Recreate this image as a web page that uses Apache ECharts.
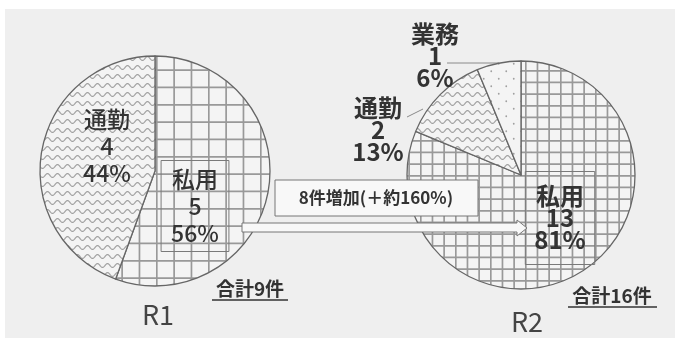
<!DOCTYPE html>
<html>
<head>
<meta charset="utf-8">
<script src="https://cdn.jsdelivr.net/npm/echarts@6.0.0/dist/echarts.min.js"></script>
<style>
  html, body { margin: 0; padding: 0; background: #fff; }
  #chart { width: 675px; height: 342px; }
</style>
</head>
<body>
<div id="chart"></div>
<script>
// Usage categories and counts per period
const categories = ['私用', '通勤', '業務'];
const periods = ['R1', 'R2'];
const countsR1 = [5, 4, 0];
const countsR2 = [13, 2, 1];

const FONT = '"Noto Sans CJK JP", "Noto Sans", sans-serif';
const INK = '#333333';
const LINE = '#8a8a8a';

// ---- fill patterns (grid / wave / dots) drawn on small canvases ----
function makeCanvas(w, h) {
  const c = document.createElement('canvas');
  c.width = w; c.height = h;
  const ctx = c.getContext('2d');
  ctx.fillStyle = '#f4f4f4';
  ctx.fillRect(0, 0, w, h);
  return [c, ctx];
}
function gridPattern(step, cells) {
  const size = Math.round(step * cells);
  const [c, ctx] = makeCanvas(size, size);
  ctx.strokeStyle = '#999999';
  ctx.lineWidth = 1.7;
  for (let i = 0; i < cells; i++) {
    const p = i * size / cells + 0.8;
    ctx.beginPath(); ctx.moveTo(p, 0); ctx.lineTo(p, size); ctx.stroke();
    ctx.beginPath(); ctx.moveTo(0, p); ctx.lineTo(size, p); ctx.stroke();
  }
  return { image: c, repeat: 'repeat' };
}
function wavePattern(period, gap, amp) {
  const [c, ctx] = makeCanvas(period, gap);
  ctx.strokeStyle = '#a2a2a2';
  ctx.lineWidth = 1.2;
  ctx.beginPath();
  for (let x = -1; x <= period + 1; x += 0.5) {
    const y = gap / 2 + amp * Math.sin(2 * Math.PI * x / period);
    if (x === -1) ctx.moveTo(x, y); else ctx.lineTo(x, y);
  }
  ctx.stroke();
  return { image: c, repeat: 'repeat' };
}
function dotPattern(step) {
  const [c, ctx] = makeCanvas(step, step);
  ctx.fillStyle = '#a0a0a0';
  [[step / 4, step / 4], [step * 3 / 4, step * 3 / 4]].forEach(([x, y]) => {
    ctx.beginPath(); ctx.arc(x, y, 0.9, 0, Math.PI * 2); ctx.fill();
  });
  return { image: c, repeat: 'repeat' };
}

const fills = [
  { '私用': gridPattern(17.3, 3), '通勤': wavePattern(10, 9, 1.9), '業務': dotPattern(15) },
  { '私用': gridPattern(11.6, 3), '通勤': wavePattern(10, 9, 1.9), '業務': dotPattern(15) }
];

// Label placement for each slice label, and leader-line paths for outside labels
const labelSpots = [
  { '私用': { x: 195, y: 206 }, '通勤': { x: 107, y: 146 } },
  {
    '私用': { x: 560, y: 218 },
    '通勤': { x: 378, y: 130, line: [[423, 109], [407, 117]] },
    '業務': { x: 435, y: 56, line: [[499, 63], [447, 63]] }
  }
];

const labelFonts = [
  { size: 23, lineHeight: 27, weight: 500 },
  { size: 24, lineHeight: 22, weight: 'bold' }
];

function buildData(counts, si) {
  return categories
    .map((name, i) => ({ name, value: counts[i] }))
    .filter(d => d.value > 0)
    .map(d => {
      const boxed = d.name === '私用';
      const outside = !!labelSpots[si][d.name].line;
      return {
        name: d.name,
        value: d.value,
        itemStyle: { color: fills[si][d.name] },
        label: {
          position: outside ? 'outside' : 'inside',
          borderColor: boxed ? '#7a7a7a' : 'transparent',
          borderWidth: boxed ? 1 : 0,
          padding: boxed ? (si === 0 ? [5, 10, 5, 10] : [16, 9, 11, 9]) : 0
        },
        labelLine: { show: outside, lineStyle: { color: LINE, width: 1 } }
      };
    });
}

function pieSeries(counts, si, center, radius) {
  const f = labelFonts[si];
  const shown = categories.filter((c, i) => counts[i] > 0);
  return {
    type: 'pie',
    name: periods[si],
    center: center,
    radius: radius,
    startAngle: 90,
    clockwise: true,
    avoidLabelOverlap: false,
    percentPrecision: 0,
    animation: false,
    itemStyle: { borderColor: '#666', borderWidth: 1.3 },
    label: {
      show: true,
      formatter: '{b}\n{c}\n{d}%',
      fontFamily: FONT,
      fontSize: f.size,
      fontWeight: f.weight,
      lineHeight: f.lineHeight,
      color: INK,
      align: 'center'
    },
    labelLayout: function (p) {
      const spot = labelSpots[si][shown[p.dataIndex]];
      const out = { x: spot.x, y: spot.y, align: 'center', verticalAlign: 'middle' };
      if (spot.line) out.labelLinePoints = [spot.line[0], spot.line[1], spot.line[1]];
      return out;
    },
    data: buildData(counts, si)
  };
}

// Change of the 私用 count between the two periods
const privDiff = countsR2[0] - countsR1[0];
const privRate = Math.round(privDiff / countsR1[0] * 100);
const sum = a => a.reduce((s, v) => s + v, 0);

const chart = echarts.init(document.getElementById('chart'), null, { renderer: 'canvas' });
chart.setOption({
  backgroundColor: '#ffffff',
  animation: false,
  series: [
    pieSeries(countsR1, 0, [155, 171], 115),
    pieSeries(countsR2, 1, [521, 175], 114)
  ],
  graphic: [
    { type: 'rect', z: -10, silent: true,
      shape: { x: 5, y: 9, width: 670, height: 329 },
      style: { fill: '#efefef' } },
    // hollow arrow between the two pies
    { type: 'polygon', z: 50,
      shape: { points: [[242, 223], [517, 223], [517, 220], [527, 228], [517, 236], [517, 232], [242, 232]] },
      style: { fill: '#f8f8f8', stroke: '#777', lineWidth: 1 } },
    { type: 'rect', z: 50,
      shape: { x: 275, y: 180, width: 203, height: 36 },
      style: { fill: '#f8f8f8', stroke: '#777', lineWidth: 1 } },
    { type: 'text', z: 51, x: 376, y: 198,
      style: { text: privDiff + '件増加(＋約' + privRate + '%)', font: 'bold 17px ' + FONT,
               fill: INK, align: 'center', verticalAlign: 'middle' } },
    // totals
    { type: 'text', z: 51, x: 250, y: 289,
      style: { text: '合計' + sum(countsR1) + '件', font: 'bold 19px ' + FONT,
               fill: INK, align: 'center', verticalAlign: 'middle' } },
    { type: 'line', z: 51, shape: { x1: 212, y1: 300, x2: 288, y2: 300 },
      style: { stroke: INK, lineWidth: 1.5 } },
    { type: 'text', z: 51, x: 612, y: 296,
      style: { text: '合計' + sum(countsR2) + '件', font: 'bold 19px ' + FONT,
               fill: INK, align: 'center', verticalAlign: 'middle' } },
    { type: 'line', z: 51, shape: { x1: 568, y1: 307, x2: 657, y2: 307 },
      style: { stroke: INK, lineWidth: 1.5 } },
    // period names
    { type: 'text', z: 51, x: 158, y: 315,
      style: { text: periods[0], font: '27px ' + FONT, fill: '#444',
               align: 'center', verticalAlign: 'middle' } },
    { type: 'text', z: 51, x: 527, y: 322,
      style: { text: periods[1], font: '27px ' + FONT, fill: '#444',
               align: 'center', verticalAlign: 'middle' } }
  ]
});
</script>
</body>
</html>
